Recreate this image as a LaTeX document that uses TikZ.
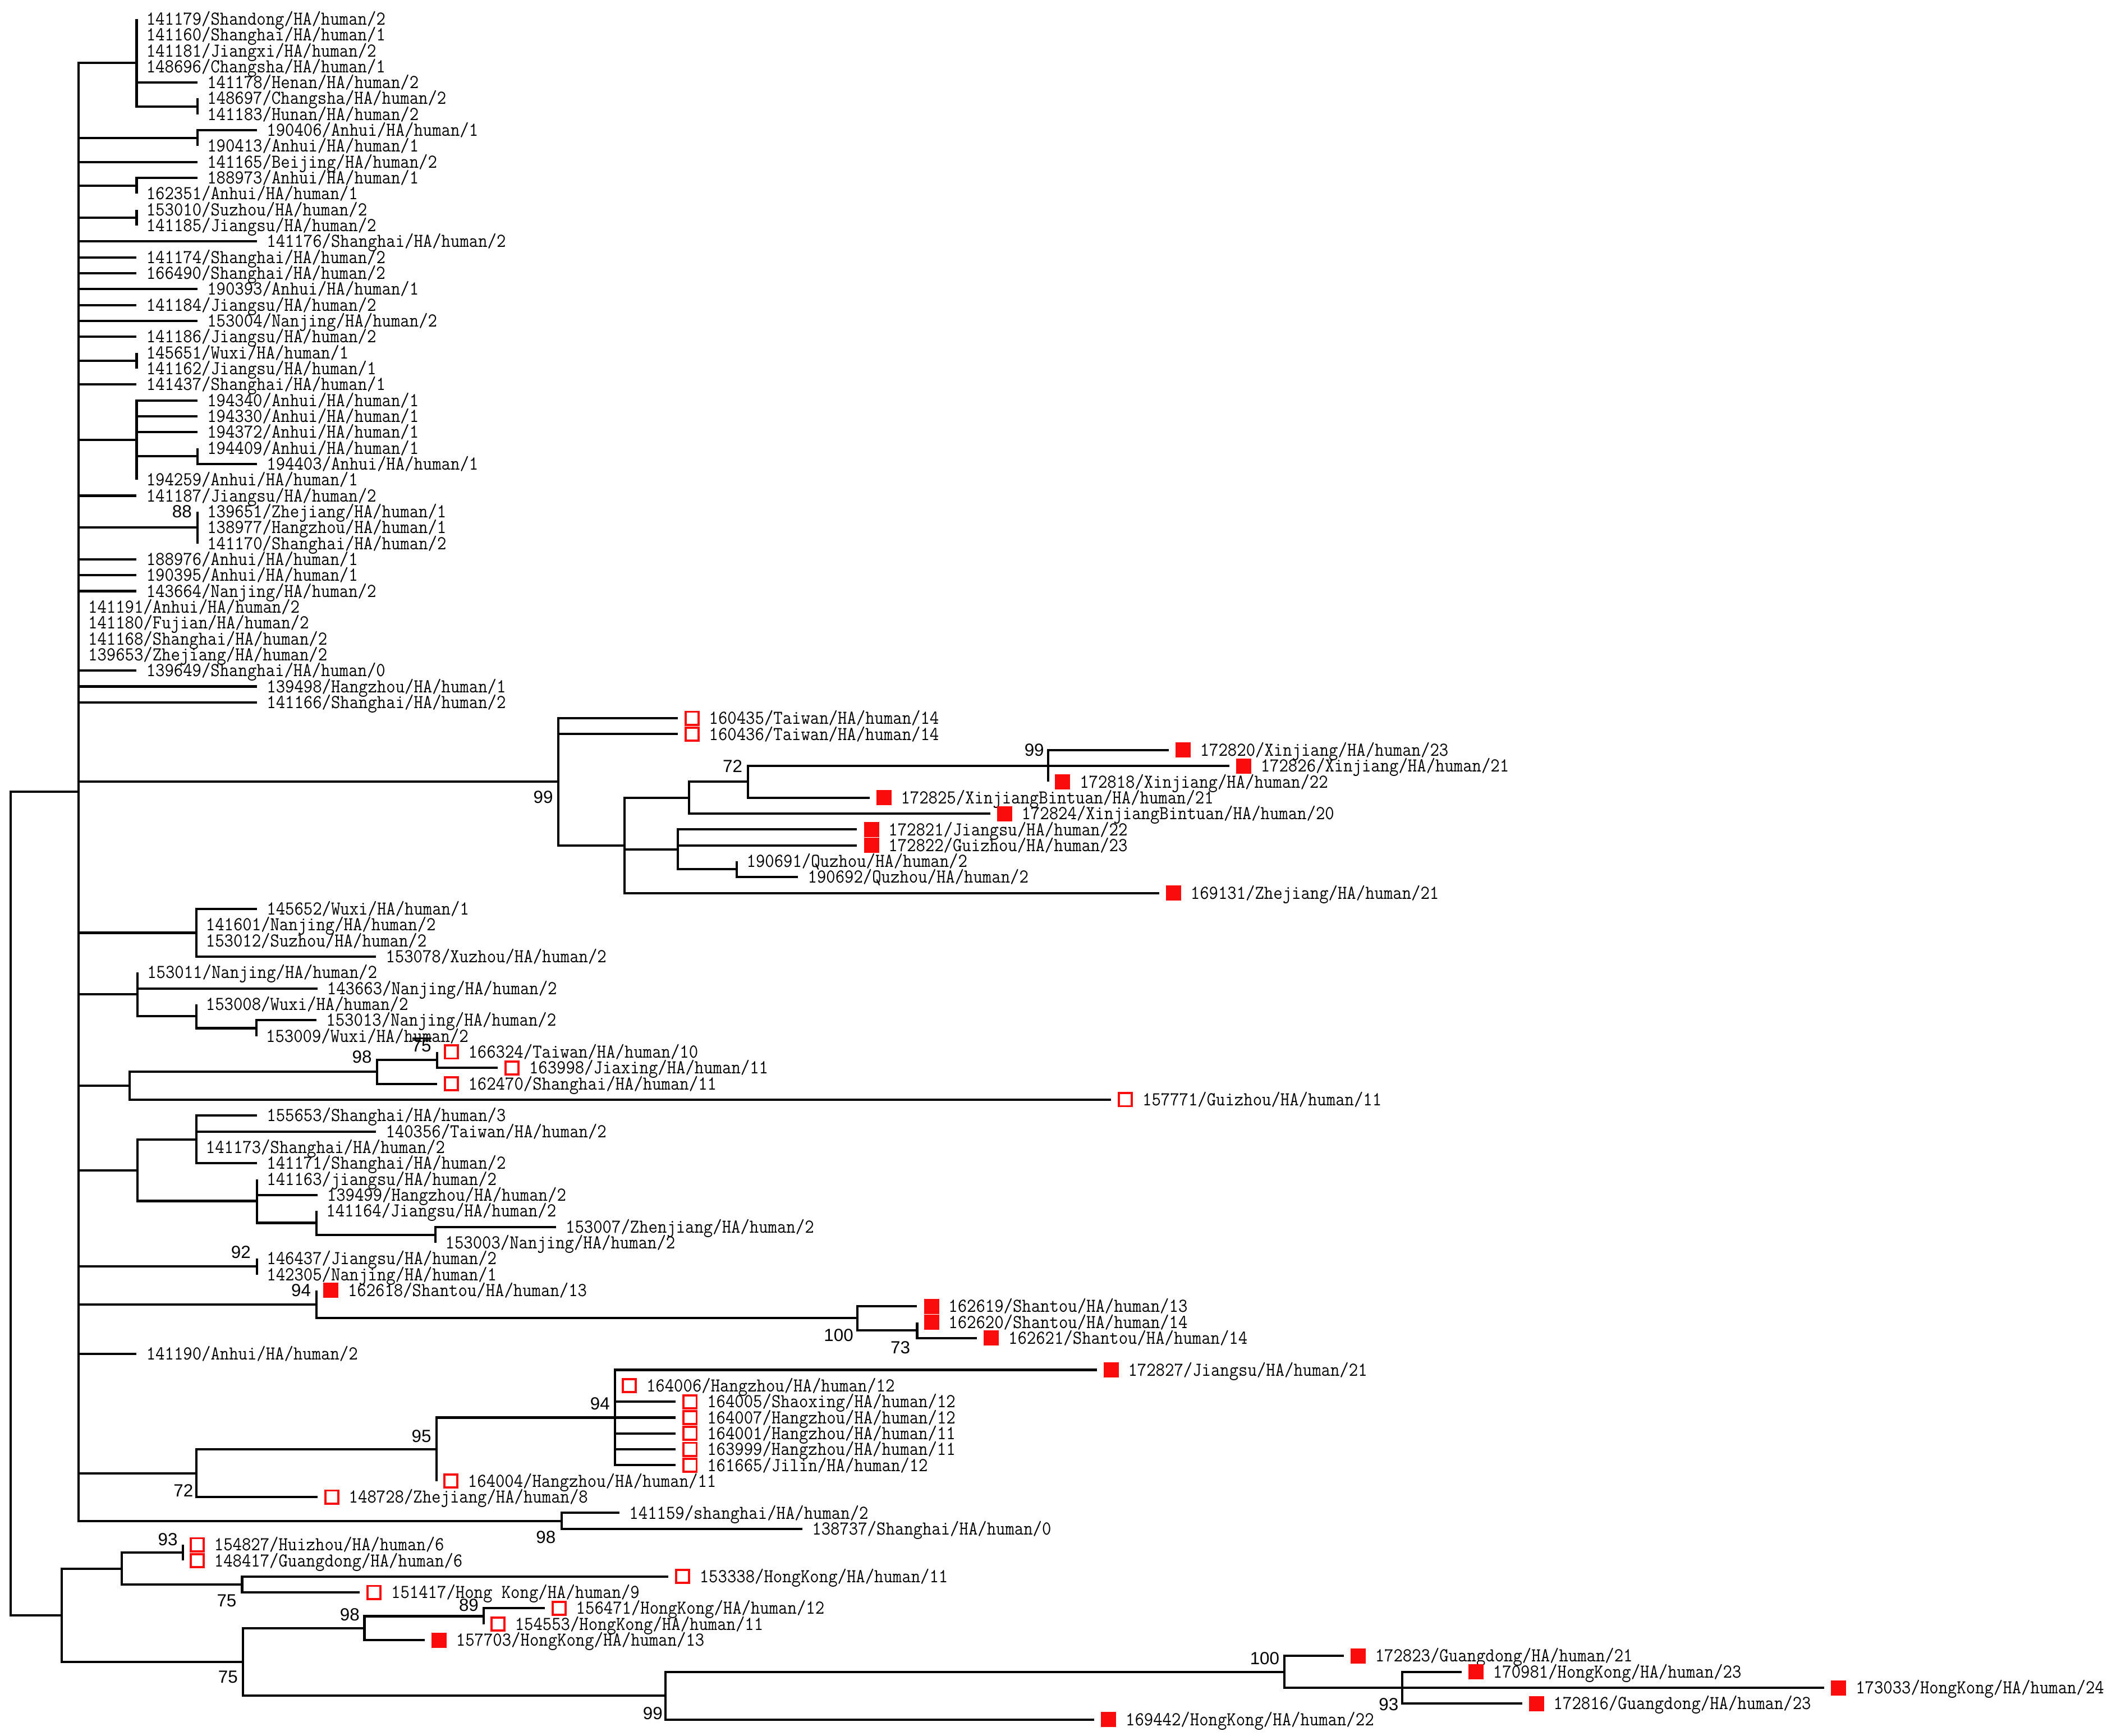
\documentclass[tikz,border=0pt]{standalone}
\usepackage{fontspec}
\usepackage{graphicx}
\usepackage{tikz}
\usetikzlibrary{positioning}
\newfontfamily\bootfont{Liberation Sans}
\definecolor{markred}{RGB}{250,12,12}
\tikzstyle{branch} = [line width=1.7pt]
\tikzstyle{tiplabel} = [anchor=base west, inner sep=0pt, yshift=-4.4pt, font=\fontsize{13.2}{15}\selectfont\ttfamily]
\tikzstyle{boot} = [anchor=base east, inner sep=0pt, yshift=-4.6pt, font=\fontsize{13}{15}\selectfont\bootfont]
\tikzstyle{openmark} = [rectangle, draw=markred, line width=1.6pt, fill=white, minimum size=9.6pt, inner sep=0pt]
\tikzstyle{fullmark} = [rectangle, fill=markred, minimum size=11.2pt, inner sep=0pt]
% tip: name, parent, end x, row, label
\newcommand{\tip}[5]{\coordinate (#1) at (#3,#4); \draw[branch] (#2) |- (#1);
  \node[tiplabel, xshift=7pt] (#1-l) at (#1) {\scalebox{1}[1.1]{#5}};}
% marked tip: name, parent, end x, row, label, marker style
\newcommand{\mtip}[6]{\coordinate (#1) at (#3,#4); \draw[branch] (#2) |- (#1);
  \node[#6, xshift=10.6pt] (#1-m) at (#1) {};
  \node[tiplabel, xshift=23pt] (#1-l) at (#1) {\scalebox{1}[1.1]{#5}};}
% inner node: name, parent, x, row
\newcommand{\clade}[4]{\coordinate (#1) at (#3,#4); \draw[branch] (#2) |- (#1);}

\begin{document}
\begin{tikzpicture}[x=1pt, y=-11.75pt]
    \useasboundingbox (0,-0.1915) rectangle (1568,109.03);

    \coordinate (root) at (8,75.5);
    \clade{nA}{root}{58}{49.625}
    \clade{nB}{root}{45.6}{101.4375}

    % first big clade
    \clade{nA1}{nA}{101}{3.75}
    \tip{s141179}{nA1}{101}{1}{141179/Shandong/HA/human/2}
    \tip{s141160}{nA1}{101}{2}{141160/Shanghai/HA/human/1}
    \tip{s141181}{nA1}{101}{3}{141181/Jiangxi/HA/human/2}
    \tip{s148696}{nA1}{101}{4}{148696/Changsha/HA/human/1}
    \tip{s141178}{nA1}{146}{5}{141178/Henan/HA/human/2}
    \clade{nA1a}{nA1}{146}{6.5}
    \tip{s148697}{nA1a}{146}{6}{148697/Changsha/HA/human/2}
    \tip{s141183}{nA1a}{146}{7}{141183/Hunan/HA/human/2}
    \clade{nA2}{nA}{146}{8.5}
    \tip{s190406}{nA2}{190}{8}{190406/Anhui/HA/human/1}
    \tip{s190413}{nA2}{146}{9}{190413/Anhui/HA/human/1}
    \tip{s141165}{nA}{146}{10}{141165/Beijing/HA/human/2}
    \clade{nA4}{nA}{101}{11.5}
    \tip{s188973}{nA4}{146}{11}{188973/Anhui/HA/human/1}
    \tip{s162351}{nA4}{101}{12}{162351/Anhui/HA/human/1}
    \clade{nA5}{nA}{101}{13.5}
    \tip{s153010}{nA5}{101}{13}{153010/Suzhou/HA/human/2}
    \tip{s141185}{nA5}{101}{14}{141185/Jiangsu/HA/human/2}
    \tip{s141176}{nA}{190}{15}{141176/Shanghai/HA/human/2}
    \tip{s141174}{nA}{101}{16}{141174/Shanghai/HA/human/2}
    \tip{s166490}{nA}{101}{17}{166490/Shanghai/HA/human/2}
    \tip{s190393}{nA}{146}{18}{190393/Anhui/HA/human/1}
    \tip{s141184}{nA}{101}{19}{141184/Jiangsu/HA/human/2}
    \tip{s153004}{nA}{146}{20}{153004/Nanjing/HA/human/2}
    \tip{s141186}{nA}{101}{21}{141186/Jiangsu/HA/human/2}
    \clade{nA13}{nA}{101}{22.5}
    \tip{s145651}{nA13}{101}{22}{145651/Wuxi/HA/human/1}
    \tip{s141162}{nA13}{101}{23}{141162/Jiangsu/HA/human/1}
    \tip{s141437}{nA}{101}{24}{141437/Shanghai/HA/human/1}
    \clade{nA15}{nA}{101}{27.5}
    \tip{s194340}{nA15}{146}{25}{194340/Anhui/HA/human/1}
    \tip{s194330}{nA15}{146}{26}{194330/Anhui/HA/human/1}
    \tip{s194372}{nA15}{146}{27}{194372/Anhui/HA/human/1}
    \clade{nA15a}{nA15}{146}{28.5}
    \tip{s194409}{nA15a}{146}{28}{194409/Anhui/HA/human/1}
    \tip{s194403}{nA15a}{190}{29}{194403/Anhui/HA/human/1}
    \tip{s194259}{nA15}{101}{30}{194259/Anhui/HA/human/1}
    \tip{s141187}{nA}{101}{31}{141187/Jiangsu/HA/human/2}
    \clade{nA17}{nA}{146}{33}
    \node[boot] (b-A17) at (142,32) {88};
    \tip{s139651}{nA17}{146}{32}{139651/Zhejiang/HA/human/1}
    \tip{s138977}{nA17}{146}{33}{138977/Hangzhou/HA/human/1}
    \tip{s141170}{nA17}{146}{34}{141170/Shanghai/HA/human/2}
    \tip{s188976}{nA}{101}{35}{188976/Anhui/HA/human/1}
    \tip{s190395}{nA}{101}{36}{190395/Anhui/HA/human/1}
    \tip{s143664}{nA}{101}{37}{143664/Nanjing/HA/human/2}
    \tip{s141191}{nA}{58}{38}{141191/Anhui/HA/human/2}
    \tip{s141180}{nA}{58}{39}{141180/Fujian/HA/human/2}
    \tip{s141168}{nA}{58}{40}{141168/Shanghai/HA/human/2}
    \tip{s139653}{nA}{58}{41}{139653/Zhejiang/HA/human/2}
    \tip{s139649}{nA}{101}{42}{139649/Shanghai/HA/human/0}
    \tip{s139498}{nA}{190}{43}{139498/Hangzhou/HA/human/1}
    \tip{s141166}{nA}{190}{44}{141166/Shanghai/HA/human/2}

    % Taiwan / Xinjiang clade
    \clade{nC}{nA}{412.7}{49}
    \node[boot] (b-C) at (409,49.95) {99};
    \mtip{s160435}{nC}{501}{45}{160435/Taiwan/HA/human/14}{openmark}
    \mtip{s160436}{nC}{501}{46}{160436/Taiwan/HA/human/14}{openmark}
    \clade{nD}{nC}{461.5}{53}
    \clade{nE}{nD}{509.5}{50}
    \clade{nG}{nE}{553}{49}
    \node[boot] (b-G) at (549,48) {72};
    \clade{nH}{nG}{775}{48}
    \node[boot] (b-H) at (772,47) {99};
    \mtip{s172820}{nH}{864}{47}{172820/Xinjiang/HA/human/23}{fullmark}
    \mtip{s172826}{nH}{908.8}{48}{172826/Xinjiang/HA/human/21}{fullmark}
    \mtip{s172818}{nH}{775}{49}{172818/Xinjiang/HA/human/22}{fullmark}
    \mtip{s172825}{nG}{642.8}{50}{172825/XinjiangBintuan/HA/human/21}{fullmark}
    \mtip{s172824}{nE}{732}{51}{172824/XinjiangBintuan/HA/human/20}{fullmark}
    \clade{nF}{nD}{501}{53.25}
    \mtip{s172821}{nF}{633.6}{52}{172821/Jiangsu/HA/human/22}{fullmark}
    \mtip{s172822}{nF}{633.6}{53}{172822/Guizhou/HA/human/23}{fullmark}
    \clade{nI}{nF}{544.8}{54.5}
    \tip{s190691}{nI}{544.8}{54}{190691/Quzhou/HA/human/2}
    \tip{s190692}{nI}{590}{55}{190692/Quzhou/HA/human/2}
    \mtip{s169131}{nD}{857}{56}{169131/Zhejiang/HA/human/21}{fullmark}

    \clade{nJ}{nA}{145}{58.5}
    \tip{s145652}{nJ}{190}{57}{145652/Wuxi/HA/human/1}
    \tip{s141601}{nJ}{145}{58}{141601/Nanjing/HA/human/2}
    \tip{s153012}{nJ}{145}{59}{153012/Suzhou/HA/human/2}
    \tip{s153078}{nJ}{278}{60}{153078/Xuzhou/HA/human/2}
    \clade{nK}{nA}{101.6}{62.375}
    \tip{s153011}{nK}{101.6}{61}{153011/Nanjing/HA/human/2}
    \tip{s143663}{nK}{234.6}{62}{143663/Nanjing/HA/human/2}
    \clade{nL}{nK}{145}{63.75}
    \tip{s153008}{nL}{145}{63}{153008/Wuxi/HA/human/2}
    \clade{nM}{nL}{189.5}{64.5}
    \tip{s153013}{nM}{234}{64}{153013/Nanjing/HA/human/2}
    \tip{s153009}{nM}{189.5}{65}{153009/Wuxi/HA/human/2}

    \clade{nN}{nA}{95.8}{68.125}
    \clade{nO}{nN}{278.9}{67.25}
    \node[boot] (b-O) at (275,66.3) {98};
    \clade{nP}{nO}{323}{66.5}
    \node[boot] (b-P) at (319,65.6) {75};
    \draw[line width=1.2pt] (305,65.14) -- (319,65.14);
    \mtip{s166324}{nP}{323}{66}{166324/Taiwan/HA/human/10}{openmark}
    \mtip{s163998}{nP}{368}{67}{163998/Jiaxing/HA/human/11}{openmark}
    \mtip{s162470}{nO}{323}{68}{162470/Shanghai/HA/human/11}{openmark}
    \mtip{s157771}{nN}{821.4}{69}{157771/Guizhou/HA/human/11}{openmark}

    \clade{nQ}{nA}{101.6}{73.4375}
    \clade{nR}{nQ}{145}{71.5}
    \tip{s155653}{nR}{190}{70}{155653/Shanghai/HA/human/3}
    \tip{s140356}{nR}{278}{71}{140356/Taiwan/HA/human/2}
    \tip{s141173}{nR}{145}{72}{141173/Shanghai/HA/human/2}
    \tip{s141171}{nR}{190}{73}{141171/Shanghai/HA/human/2}
    \clade{nS}{nQ}{190}{75.375}
    \tip{s141163}{nS}{190}{74}{141163/jiangsu/HA/human/2}
    \tip{s139499}{nS}{234.6}{75}{139499/Hangzhou/HA/human/2}
    \clade{nT}{nS}{234}{76.75}
    \tip{s141164}{nT}{234}{76}{141164/Jiangsu/HA/human/2}
    \clade{nU}{nT}{322}{77.5}
    \tip{s153007}{nU}{411}{77}{153007/Zhenjiang/HA/human/2}
    \tip{s153003}{nU}{322}{78}{153003/Nanjing/HA/human/2}

    \clade{nV}{nA}{190}{79.5}
    \node[boot] (b-V) at (185.5,78.6) {92};
    \tip{s146437}{nV}{190}{79}{146437/Jiangsu/HA/human/2}
    \tip{s142305}{nV}{190}{80}{142305/Nanjing/HA/human/1}

    \clade{nW}{nA}{234}{81.875}
    \node[boot] (b-W) at (230,81) {94};
    \mtip{s162618}{nW}{234}{81}{162618/Shantou/HA/human/13}{fullmark}
    \clade{nX}{nW}{634}{82.75}
    \node[boot] (b-X) at (631,83.8) {100};
    \mtip{s162619}{nX}{678}{82}{162619/Shantou/HA/human/13}{fullmark}
    \clade{nZ}{nX}{678}{83.5}
    \node[boot] (b-Z) at (673,84.6) {73};
    \mtip{s162620}{nZ}{678}{83}{162620/Shantou/HA/human/14}{fullmark}
    \mtip{s162621}{nZ}{722.3}{84}{162621/Shantou/HA/human/14}{fullmark}

    \tip{s141190}{nA}{101}{85}{141190/Anhui/HA/human/2}

    \clade{nAA}{nA}{145.3}{92.5}
    \node[boot] (b-AA) at (143,93.6) {72};
    \clade{nBB}{nAA}{322.7}{91}
    \node[boot] (b-BB) at (319,90.15) {95};
    \clade{nCC}{nBB}{454.7}{89}
    \node[boot] (b-CC) at (451,88.1) {94};
    \mtip{s172827}{nCC}{810.8}{86}{172827/Jiangsu/HA/human/21}{fullmark}
    \mtip{s164006}{nCC}{454.7}{87}{164006/Hangzhou/HA/human/12}{openmark}
    \mtip{s164005}{nCC}{499.6}{88}{164005/Shaoxing/HA/human/12}{openmark}
    \mtip{s164007}{nCC}{499.6}{89}{164007/Hangzhou/HA/human/12}{openmark}
    \mtip{s164001}{nCC}{499.6}{90}{164001/Hangzhou/HA/human/11}{openmark}
    \mtip{s163999}{nCC}{499.6}{91}{163999/Hangzhou/HA/human/11}{openmark}
    \mtip{s161665}{nCC}{499.6}{92}{161665/Jilin/HA/human/12}{openmark}
    \mtip{s164004}{nBB}{322.7}{93}{164004/Hangzhou/HA/human/11}{openmark}
    \mtip{s148728}{nAA}{234.7}{94}{148728/Zhejiang/HA/human/8}{openmark}

    \clade{nDD}{nA}{415.4}{95.5}
    \node[boot] (b-DD) at (411,96.5) {98};
    \tip{s141159}{nDD}{458}{95}{141159/shanghai/HA/human/2}
    \tip{s138737}{nDD}{593.2}{96}{138737/Shanghai/HA/human/0}

    % second clade
    \clade{nEE}{nB}{90}{98.5}
    \clade{nGG}{nEE}{135.2}{97.5}
    \node[boot] (b-GG) at (131.5,96.66) {93};
    \mtip{s154827}{nGG}{135.2}{97}{154827/Huizhou/HA/human/6}{openmark}
    \mtip{s148417}{nGG}{135.2}{98}{148417/Guangdong/HA/human/6}{openmark}
    \clade{nII}{nEE}{179}{99.5}
    \node[boot] (b-II) at (175,100.5) {75};
    \mtip{s153338}{nII}{494}{99}{153338/HongKong/HA/human/11}{openmark}
    \mtip{s151417}{nII}{266}{100}{151417/Hong Kong/HA/human/9}{openmark}
    \clade{nFF}{nB}{179.7}{104.375}
    \node[boot] (b-FF) at (176,105.3) {75};
    \clade{nJJ}{nFF}{269.4}{102.25}
    \node[boot] (b-JJ) at (266,101.4) {98};
    \clade{nLL}{nJJ}{357.5}{101.5}
    \node[boot] (b-LL) at (354,100.8) {89};
    \mtip{s156471}{nLL}{402.7}{101}{156471/HongKong/HA/human/12}{openmark}
    \mtip{s154553}{nLL}{357.5}{102}{154553/HongKong/HA/human/11}{openmark}
    \mtip{s157703}{nJJ}{314}{103}{157703/HongKong/HA/human/13}{fullmark}
    \clade{nKK}{nFF}{492}{106.5}
    \node[boot] (b-KK) at (490,107.6) {99};
    \clade{nMM}{nKK}{949.4}{105}
    \node[boot] (b-MM) at (946,104.15) {100};
    \mtip{s172823}{nMM}{993.4}{104}{172823/Guangdong/HA/human/21}{fullmark}
    \clade{nNN}{nMM}{1036.6}{106}
    \node[boot] (b-NN) at (1034,107.05) {93};
    \mtip{s170981}{nNN}{1080.6}{105}{170981/HongKong/HA/human/23}{fullmark}
    \mtip{s173033}{nNN}{1348.7}{106}{173033/HongKong/HA/human/24}{fullmark}
    \mtip{s172816}{nNN}{1125.3}{107}{172816/Guangdong/HA/human/23}{fullmark}
    \mtip{s169442}{nKK}{809}{108}{169442/HongKong/HA/human/22}{fullmark}
\end{tikzpicture}
\end{document}
